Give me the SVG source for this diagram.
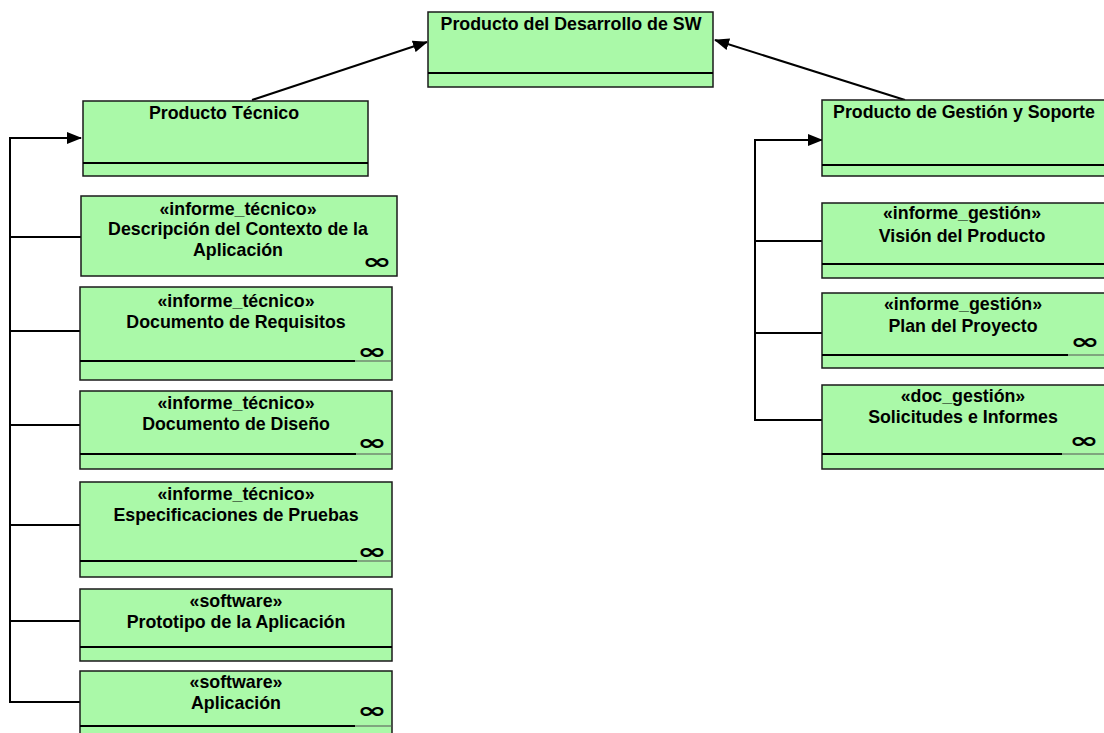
<svg xmlns="http://www.w3.org/2000/svg" width="1104" height="733" viewBox="0 0 1104 733">
<style>
.box{fill:#aaf9a8;stroke:#1a1a1a;stroke-width:1.5}
.div{stroke:#000;stroke-width:2.2}
.dg{stroke:#555;stroke-width:1.2}
.t{font-family:"Liberation Sans",Arial,sans-serif;font-weight:bold;font-size:17.8px;fill:#000;text-anchor:middle}
.inf{font-family:"DejaVu Sans",sans-serif;font-weight:bold;font-size:22px;fill:#000;text-anchor:middle}
.c{fill:none;stroke:#000;stroke-width:2}
</style>
<defs>
<marker id="ah" markerWidth="15" markerHeight="12" refX="14" refY="6" orient="auto" markerUnits="userSpaceOnUse">
<path d="M0,0 L15,6 L0,12 Z" fill="#000"/>
</marker>
</defs>
<rect width="1104" height="733" fill="#fff"/>
<g id="connectors">
<line class="c" x1="252" y1="100" x2="427" y2="42" marker-end="url(#ah)"/>
<line class="c" x1="905" y1="100" x2="715" y2="40" marker-end="url(#ah)"/>
<polyline class="c" points="81,237 10,237"/>
<polyline class="c" points="80,331 10,331"/>
<polyline class="c" points="80,425 10,425"/>
<polyline class="c" points="80,525 10,525"/>
<polyline class="c" points="80,621 10,621"/>
<polyline class="c" points="80,702 10,702 10,138 81,138" marker-end="url(#ah)"/>
<polyline class="c" points="822,241 755,241"/>
<polyline class="c" points="822,333 755,333"/>
<polyline class="c" points="822,420 755,420 755,140 822,140" marker-end="url(#ah)"/>
</g>
<g id="n-desarrollo">
<rect class="box" x="428" y="12" width="285" height="75"/>
<line class="div" x1="428" y1="73" x2="713" y2="73"/>
<text class="t" x="571" y="30">Producto del Desarrollo de SW</text>
</g>
<g id="n-tecnico">
<rect class="box" x="83" y="101" width="285" height="75"/>
<line class="div" x1="83" y1="163" x2="368" y2="163"/>
<text class="t" x="224" y="119">Producto Técnico</text>
</g>
<g id="n-descripcion">
<rect class="box" x="81" y="196" width="316" height="80"/>
<text class="t" x="238" y="215">«informe_técnico»</text>
<text class="t" x="238" y="235">Descripción del Contexto de la</text>
<text class="t" x="238" y="256">Aplicación</text>
<text class="inf" transform="translate(377,269) scale(1.6,1)">∞</text>
</g>
<g id="n-requisitos">
<rect class="box" x="80" y="287" width="312" height="93"/>
<line class="div" x1="80" y1="361" x2="355" y2="361"/>
<line class="dg" x1="355" y1="361" x2="392" y2="361"/>
<text class="t" x="236" y="307">«informe_técnico»</text>
<text class="t" x="236" y="328">Documento de Requisitos</text>
<text class="inf" transform="translate(372,359) scale(1.6,1)">∞</text>
</g>
<g id="n-diseno">
<rect class="box" x="80" y="391" width="312" height="78"/>
<line class="div" x1="80" y1="454" x2="356" y2="454"/>
<line class="dg" x1="356" y1="454" x2="392" y2="454"/>
<text class="t" x="236" y="409">«informe_técnico»</text>
<text class="t" x="236" y="430">Documento de Diseño</text>
<text class="inf" transform="translate(372,450) scale(1.6,1)">∞</text>
</g>
<g id="n-pruebas">
<rect class="box" x="80" y="482" width="312" height="95"/>
<line class="div" x1="80" y1="561" x2="357" y2="561"/>
<line class="dg" x1="357" y1="561" x2="392" y2="561"/>
<text class="t" x="236" y="500">«informe_técnico»</text>
<text class="t" x="236" y="521">Especificaciones de Pruebas</text>
<text class="inf" transform="translate(372,559) scale(1.6,1)">∞</text>
</g>
<g id="n-prototipo">
<rect class="box" x="80" y="589" width="312" height="72"/>
<line class="div" x1="80" y1="647" x2="392" y2="647"/>
<text class="t" x="236" y="607">«software»</text>
<text class="t" x="236" y="628">Prototipo de la Aplicación</text>
</g>
<g id="n-aplicacion">
<rect class="box" x="80" y="671" width="312" height="70"/>
<line class="div" x1="80" y1="726" x2="355" y2="726"/>
<line class="dg" x1="355" y1="726" x2="392" y2="726"/>
<text class="t" x="236" y="688">«software»</text>
<text class="t" x="236" y="709">Aplicación</text>
<text class="inf" transform="translate(372,718) scale(1.6,1)">∞</text>
</g>
<g id="n-gestion">
<rect class="box" x="822" y="100" width="290" height="76"/>
<line class="div" x1="822" y1="165" x2="1104" y2="165"/>
<text class="t" x="964" y="118">Producto de Gestión y Soporte</text>
</g>
<g id="n-vision">
<rect class="box" x="822" y="203" width="290" height="75"/>
<line class="div" x1="822" y1="264" x2="1104" y2="264"/>
<text class="t" x="962" y="219">«informe_gestión»</text>
<text class="t" x="962" y="242">Visión del Producto</text>
</g>
<g id="n-plan">
<rect class="box" x="822" y="293" width="290" height="75"/>
<line class="div" x1="822" y1="355" x2="1068" y2="355"/>
<line class="dg" x1="1068" y1="355" x2="1104" y2="355"/>
<text class="t" x="963" y="310">«informe_gestión»</text>
<text class="t" x="963" y="332">Plan del Proyecto</text>
<text class="inf" transform="translate(1085,349) scale(1.6,1)">∞</text>
</g>
<g id="n-solicitudes">
<rect class="box" x="822" y="385" width="290" height="84"/>
<line class="div" x1="822" y1="454" x2="1062" y2="454"/>
<line class="dg" x1="1062" y1="454" x2="1104" y2="454"/>
<text class="t" x="963" y="402">«doc_gestión»</text>
<text class="t" x="963" y="423">Solicitudes e Informes</text>
<text class="inf" transform="translate(1084,448) scale(1.6,1)">∞</text>
</g>
</svg>
